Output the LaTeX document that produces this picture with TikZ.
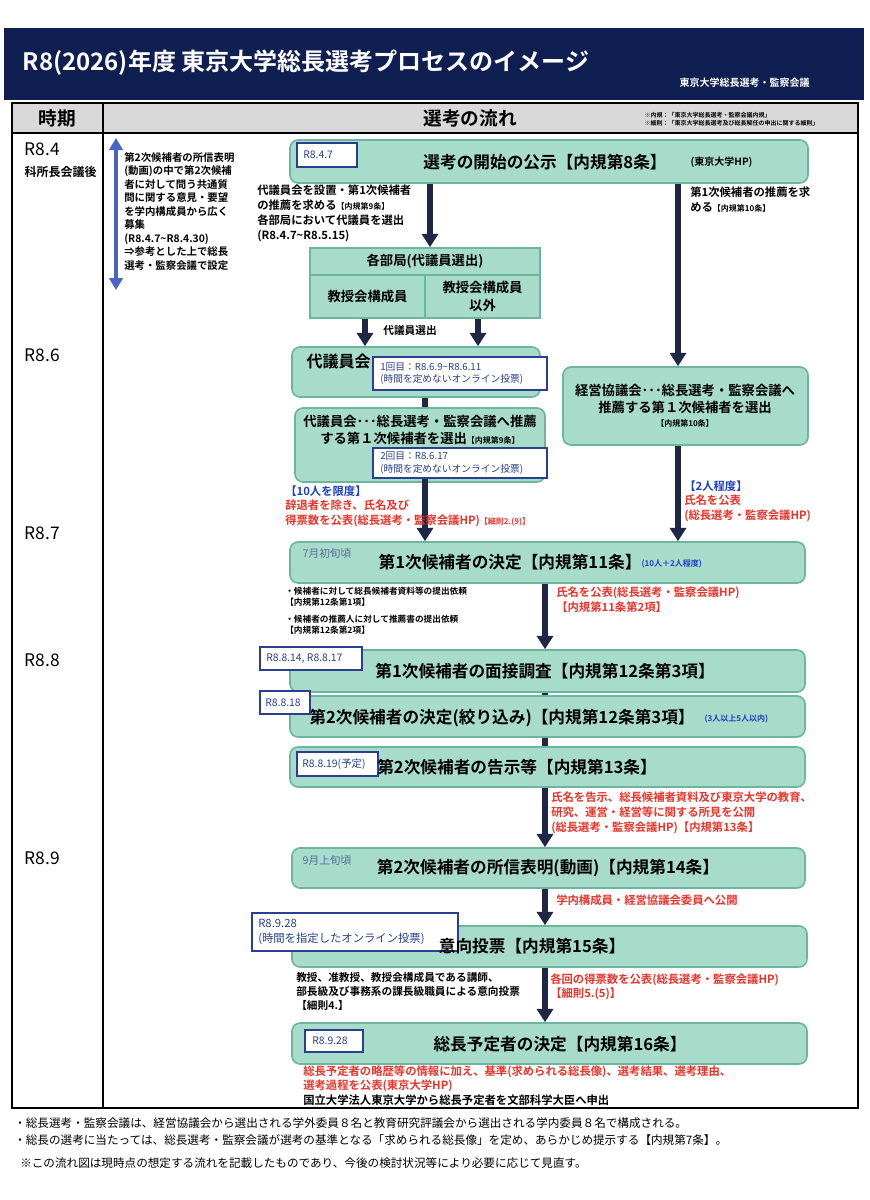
\documentclass[tikz,border=0pt]{standalone}
\usepackage{fontspec}
\setmainfont{Noto Sans CJK JP}[BoldFont={Noto Sans CJK JP Bold}]
\usetikzlibrary{arrows.meta}
\definecolor{navy}{HTML}{0F1F52}
\definecolor{teal}{HTML}{A6DCC9}
\definecolor{tealb}{HTML}{6DB59E}
\definecolor{arrc}{HTML}{1E2746}
\definecolor{dblue}{HTML}{2A3F8F}
\definecolor{rd}{HTML}{E8352B}
\definecolor{bl}{HTML}{1F3FC4}
\definecolor{slate}{HTML}{5A6B9A}
\definecolor{gr}{HTML}{D9D9D9}
\definecolor{ublue}{HTML}{4A63C8}
\newcommand{\fz}[1]{\fontsize{#1pt}{\dimexpr #1pt*13/10\relax}\selectfont}
\newcommand{\bx}[5]{\node[box,minimum width={(#4-#2)*0.75pt},minimum height={(#5-#3)*0.75pt}] (#1) at ({(#2+#4)/2},{(#3+#5)/2}) {};}
\newcommand{\db}[5]{\node[dbox,minimum width={(#4-#2)*0.75pt},minimum height={(#5-#3)*0.75pt}] (#1) at ({(#2+#4)/2},{(#3+#5)/2}) {};}
\begin{document}
\begin{tikzpicture}[x=0.75pt,y=-0.75pt,
 box/.style={draw=tealb,fill=teal,line width=1.2pt,rounded corners=6pt,inner sep=0pt},
 dbox/.style={draw=dblue,fill=white,line width=1.2pt,inner sep=0pt},
 arr/.style={draw=arrc,line width=3.8pt,-{Triangle[width=12pt,length=10pt]}},
 ln/.style={draw=arrc,line width=3.8pt},
 t/.style={anchor=west,inner sep=0pt,align=left,font=\bfseries},
 ttl/.style={inner sep=0pt,font=\bfseries\fz{12.5}},
 dt/.style={anchor=west,inner sep=0pt,font=\fz{7.8},text=dblue,align=left}]
\useasboundingbox (0,0) rectangle (870,1200);
\fill[white] (0,0) rectangle (870,1200);
% header
\fill[navy] (4,28) rectangle (864,100);
\node[anchor=west,text=white,font=\bfseries\fz{18}] (title) at (18,63) {R8(2026)年度 東京大学総長選考プロセスのイメージ};
\node[anchor=west,text=white,font=\bfseries\fz{7.5}] (sub) at (675,83) {東京大学総長選考・監察会議};
% table
\fill[gr] (12,103) rectangle (858,133);
\draw[line width=0.8pt] (12,103) rectangle (858,1108);
\draw[line width=0.8pt] (12,133) -- (858,133);
\draw[line width=0.8pt] (103,103) -- (103,1108);
\node[font=\bfseries\fz{14}] (h1) at (57,118) {時期};
\node[font=\bfseries\fz{14}] (h2) at (470,118) {選考の流れ};
\node[anchor=west,font=\bfseries\fz{4.5},align=left] (nt) at (640,119) {※内規：「東京大学総長選考・監察会議内規」\\※細則：「東京大学総長選考及び総長解任の申出に関する細則」};
% period
\node[anchor=west,font=\fz{13}] (p1) at (20,149) {R8.4};
\node[anchor=west,font=\bfseries\fz{9}] (p1b) at (20,172) {科所長会議後};
\node[anchor=west,font=\fz{13}] (p2) at (20,355) {R8.6};
\node[anchor=west,font=\fz{13}] (p3) at (20,533) {R8.7};
\node[anchor=west,font=\fz{13}] (p4) at (20,660) {R8.8};
\node[anchor=west,font=\fz{13}] (p5) at (20,858) {R8.9};
\coordinate (ua) at (116,138);
\coordinate (ub) at (116,290);
\draw[draw=ublue,line width=3.5pt,{Triangle[width=10pt,length=9pt]}-{Triangle[width=10pt,length=9pt]}] (ua) -- (ub);
\node[t,font=\bfseries\fz{7.8},anchor=north west] (lt) at (124,152) {第2次候補者の所信表明\\(動画)の中で第2次候補\\者に対して問う共通質\\問に関する意見・要望\\を学内構成員から広く\\募集\\(R8.4.7\textasciitilde R8.4.30)\\⇒参考とした上で総長\\選考・監察会議で設定};
% boxes
\bx{b1}{290}{140}{808}{183}
\db{d1}{297}{143}{357}{167}
\node[dt] at (303,155) {R8.4.7};
\node[ttl] at (545,162) {選考の開始の公示【内規第8条】};
\node[anchor=west,font=\bfseries\fz{7.5}] at (686,162) {(東京大学HP)};

\node[draw=tealb,fill=teal,line width=1.2pt,minimum width={230*0.75pt},minimum height={27*0.75pt},inner sep=0pt] (bu) at (425,261.5) {};
\node[font=\bfseries\fz{10}] at (425,261.5) {各部局(代議員選出)};
\node[draw=tealb,fill=teal,line width=1.2pt,minimum width={115*0.75pt},minimum height={43*0.75pt},inner sep=0pt,font=\bfseries\fz{10}] (bl) at (367.5,296.5) {教授会構成員};
\node[draw=tealb,fill=teal,line width=1.2pt,minimum width={115*0.75pt},minimum height={43*0.75pt},inner sep=0pt,font=\bfseries\fz{10},align=center] (br) at (482.5,296.5) {教授会構成員\\以外};

\bx{b3}{292}{347}{540}{397}
\node[anchor=west,font=\bfseries\fz{12}] at (302,361) {代議員会};
\db{d3}{373}{357}{547}{390}
\node[dt,font=\fz{7.3}] at (380,373.5) {1回目：R8.6.9\textasciitilde R8.6.11\\(時間を定めないオンライン投票)};

\bx{b4}{295}{408}{545}{482}
\node[font=\bfseries\fz{10},align=center] at (420,430) {代議員会･･･総長選考・監察会議へ推薦\\する第１次候補者を選出{\fz{6}【内規第9条】}};
\db{d4}{373}{448}{547}{478}
\node[dt,font=\fz{7.3}] at (380,463) {2回目：R8.6.17\\(時間を定めないオンライン投票)};

\bx{b5}{563}{367}{808}{445}
\node[font=\bfseries\fz{10},align=center] at (685,399) {経営協議会･･･総長選考・監察会議へ\\推薦する第１次候補者を選出};
\node[font=\bfseries\fz{6}] at (685,423) {【内規第10条】};

\bx{b6}{290}{542}{805}{583}
\node[anchor=west,font=\fz{8},text=slate] at (298,553) {7月初旬頃};
\node[ttl] at (510,562) {第1次候補者の決定【内規第11条】};
\node[anchor=west,font=\bfseries\fz{6},text=bl] at (637,564) {(10人＋2人程度)};

\bx{b7}{290}{650}{805}{692}
\node[ttl] at (545,671) {第1次候補者の面接調査【内規第12条第3項】};
\db{d7}{260}{647}{362}{670}
\node[dt] at (266,658.5) {R8.8.14,\ R8.8.17};

\bx{b8}{290}{696}{805}{737}
\node[ttl] at (502,718) {第2次候補者の決定(絞り込み)【内規第12条第3項】};
\node[anchor=west,font=\bfseries\fz{6},text=bl] at (700,719) {(3人以上5人以内)};
\db{d8}{260}{691}{310}{714}
\node[dt] at (265,702.5) {R8.8.18};

\bx{b9}{290}{747}{805}{787}
\db{d9}{297}{752}{378}{776}
\node[dt] at (302,764) {R8.8.19(予定)};
\node[ttl] at (517,767) {第2次候補者の告示等【内規第13条】};

\bx{b10}{292}{848}{805}{888}
\node[anchor=west,font=\fz{8},text=slate] at (298,860) {9月上旬頃};
\node[ttl] at (548,868) {第2次候補者の所信表明(動画)【内規第14条】};

\bx{b11}{292}{926}{807}{967}
\db{d11}{252}{913}{458}{951}
\node[dt,font=\fz{8.5}] at (258,932) {R8.9.28\\(時間を指定したオンライン投票)};
\node[ttl] at (532,946) {意向投票【内規第15条】};

\bx{b12}{292}{1023}{807}{1064}
\db{d12}{305}{1030}{363}{1052}
\node[dt] at (312,1041) {R8.9.28};
\node[ttl] at (560,1044) {総長予定者の決定【内規第16条】};

% connectors
\coordinate (x430) at (430,0); \coordinate (x365) at (365,0); \coordinate (x478) at (478,0);
\coordinate (x425) at (425,0); \coordinate (x678) at (678,0); \coordinate (x545) at (545,0);
\draw[arr] (b1.south -| x430) -- (bu.north -| x430);
\draw[arr] (bl.south -| x365) -- (b3.north -| x365);
\draw[arr] (br.south -| x478) -- (b3.north -| x478);
\node[font=\bfseries\fz{8}] at (410,330) {代議員選出};
\draw[ln] (b3.south -| x425) -- (b4.north -| x425);
\draw[arr] (d4.south -| x425) -- (b6.north -| x425);
\draw[arr] (b1.south -| x678) -- (b5.north -| x678);
\draw[arr] (b5.south -| x678) -- (b6.north -| x678);
\draw[arr] (b6.south -| x545) -- (b7.north -| x545);
\draw[ln] (b7.south -| x545) -- (b8.north -| x545);
\draw[ln] (b8.south -| x545) -- (b9.north -| x545);
\draw[arr] (b9.south -| x545) -- (b10.north -| x545);
\draw[arr] (b10.south -| x545) -- (b11.north -| x545);
\draw[arr] (b11.south -| x545) -- (b12.north -| x545);

% annotations
\node[t,font=\bfseries\fz{8.5},anchor=north west] at (257,185) {代議員会を設置・第1次候補者\\の推薦を求める{\fz{6}【内規第9条】}\\各部局において代議員を選出\\(R8.4.7\textasciitilde R8.5.15)};
\node[t,font=\bfseries\fz{8.5},anchor=north west] at (690,187) {第1次候補者の推薦を求\\める{\fz{6}【内規第10条】}};
\node[t,font=\bfseries\fz{8.5},anchor=north west,text=bl] at (285,486) {【10人を限度】};
\node[t,font=\bfseries\fz{8.5},anchor=north west,text=rd] at (285,500) {辞退者を除き、氏名及び\\得票数を公表(総長選考・監察会議HP){\fz{6}【細則2.(9)】}};
\node[t,font=\bfseries\fz{8.5},anchor=north west,text=bl] at (684,481) {【2人程度】};
\node[t,font=\bfseries\fz{8.5},anchor=north west,text=rd] at (684,495) {氏名を公表\\(総長選考・監察会議HP)};
\node[t,font=\bfseries\fz{6.5},anchor=north west] at (285,587) {・候補者に対して総長候補者資料等の提出依頼\\【内規第12条第1項】};
\node[t,font=\bfseries\fz{6.5},anchor=north west] at (285,615) {・候補者の推薦人に対して推薦書の提出依頼\\【内規第12条第2項】};
\node[t,font=\bfseries\fz{8.5},anchor=north west,text=rd] at (556,587) {氏名を公表(総長選考・監察会議HP)\\【内規第11条第2項】};
\node[t,font=\bfseries\fz{8.5},anchor=north west,text=rd] at (551,792) {氏名を告示、総長候補者資料及び東京大学の教育、\\研究、運営・経営等に関する所見を公開\\(総長選考・監察会議HP)【内規第13条】};
\node[t,font=\bfseries\fz{8.5},text=rd] at (556,900) {学内構成員・経営協議会委員へ公開};
\node[t,font=\bfseries\fz{8},anchor=north west] at (296,972) {教授、准教授、教授会構成員である講師、\\部長級及び事務系の課長級職員による意向投票\\【細則4.】};
\node[t,font=\bfseries\fz{8.5},anchor=north west,text=rd] at (550,973) {各回の得票数を公表(総長選考・監察会議HP)\\【細則5.(5)】};
\node[t,font=\bfseries\fz{8.5},anchor=north west,text=rd] at (303,1065) {総長予定者の略歴等の情報に加え、基準(求められる総長像)、選考結果、選考理由、\\選考過程を公表(東京大学HP)};
\node[t,font=\bfseries\fz{8.5}] at (303,1100) {国立大学法人東京大学から総長予定者を文部科学大臣へ申出};
% footer
\node[t,font=\fz{8.7}] at (14,1123) {・総長選考・監察会議は、経営協議会から選出される学外委員８名と教育研究評議会から選出される学内委員８名で構成される。};
\node[t,font=\fz{8.7}] at (14,1140) {・総長の選考に当たっては、総長選考・監察会議が選考の基準となる「求められる総長像」を定め、あらかじめ提示する【内規第7条】。};
\node[t,font=\fz{8.7}] at (20,1163) {※この流れ図は現時点の想定する流れを記載したものであり、今後の検討状況等により必要に応じて見直す。};
\end{tikzpicture}
\end{document}
